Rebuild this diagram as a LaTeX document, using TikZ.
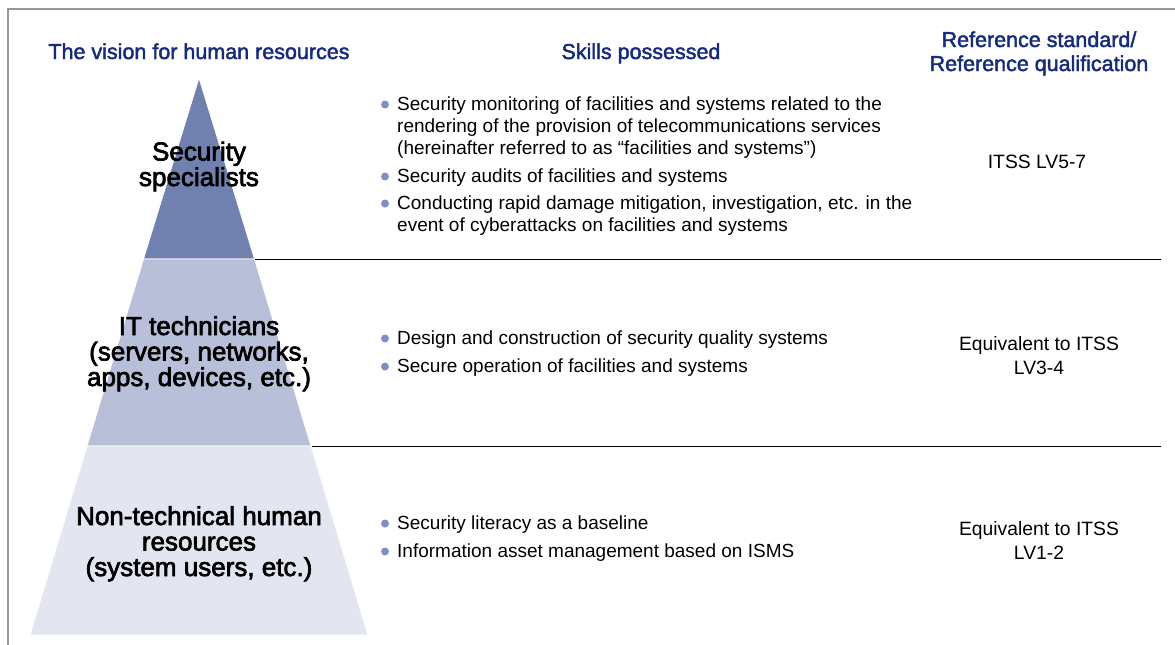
\documentclass[tikz,border=0pt]{standalone}
\usepackage{fontspec}
\setmainfont{Liberation Sans}
\newfontfamily\medfont{Liberation Sans}[FakeBold=2]
\newfontfamily\labfont{Liberation Sans}[FakeBold=2.6]
\definecolor{navy}{RGB}{22,43,122}
\definecolor{tierA}{RGB}{112,128,175}
\definecolor{tierB}{RGB}{183,191,217}
\definecolor{tierC}{RGB}{227,230,241}
\definecolor{bulletc}{RGB}{127,143,192}
\definecolor{framec}{RGB}{150,150,150}
\tikzset{
  head/.style={anchor=base, inner sep=0pt, text=navy, align=center, font=\medfont\fontsize{21.5}{24}\selectfont},
  tierlabel/.style={anchor=base, inner sep=0pt, align=center, font=\labfont\fontsize{26}{25.5}\selectfont},
  skill/.style={anchor=base west, inner sep=0pt, align=left, font=\fontsize{19}{22.3}\selectfont},
  reftext/.style={anchor=base, inner sep=0pt, align=center, font=\fontsize{19.3}{23.5}\selectfont},
  dot/.style={circle, fill=bulletc, inner sep=0pt, minimum size=8pt},
  sep/.style={line width=1.8pt, black},
  tier/.style={draw=white, line width=0.8pt}
}
\begin{document}
\begin{tikzpicture}[x=1pt,y=-1pt]
\useasboundingbox (0,0) rectangle (1175,645);
\fill[white] (0,0) rectangle (1175,645);
\draw[framec, line width=1.2pt] (1176,9) -- (8,9) -- (8,646);
% pyramid
\filldraw[tier, fill=tierA] (199,78) -- (254.5,259) -- (143.5,259) -- cycle;
\filldraw[tier, fill=tierB] (143.5,259) -- (254.5,259) -- (311,446) -- (87,446) -- cycle;
\filldraw[tier, fill=tierC] (87,446) -- (311,446) -- (368,635) -- (30,635) -- cycle;
% separators
\coordinate (s1a) at (255,259.5);
\coordinate (s1b) at (1161,259.5);
\coordinate (s2a) at (311.5,446.5);
\coordinate (s2b) at (1161,446.5);
\draw[sep] (s1a) -- (s1b);
\draw[sep] (s2a) -- (s2b);
% headers (base anchor = last line)
\node[head] (h1) at (199,59) {The vision for human resources};
\node[head] (h2) at (641,59) {Skills possessed};
\node[head] (h3) at (1039,71) {Reference standard/\\Reference qualification};
% tier labels
\node[tierlabel] (t1) at (199,186) {Security\\specialists};
\node[tierlabel] (t2) at (199,386) {IT technicians\\(servers, networks,\\apps, devices, etc.)};
\node[tierlabel] (t3) at (199,576) {Non-technical human\\resources\\(system users, etc.)};
% skills tier 1
\node[skill] (k1) at (397,154.6) {Security monitoring of facilities and systems related to the\\rendering of the provision of telecommunications services\\(hereinafter referred to as “facilities and systems”)};
\node[skill] (k2) at (397,182) {Security audits of facilities and systems};
\node[skill] (k3) at (397,231.3) {Conducting rapid damage mitigation, investigation, etc. in the\\event of cyberattacks on facilities and systems};
% tier 2
\node[skill] (k4) at (397,344) {Design and construction of security quality systems};
\node[skill] (k5) at (397,372) {Secure operation of facilities and systems};
% tier 3
\node[skill] (k6) at (397,529) {Security literacy as a baseline};
\node[skill] (k7) at (397,557) {Information asset management based on ISMS};
% bullets (at first line of each item)
\node[dot] (dk1) at (385,104.5) {};
\node[dot] (dk2) at (385,176.5) {};
\node[dot] (dk3) at (385,203.5) {};
\node[dot] (dk4) at (385,338.5) {};
\node[dot] (dk5) at (385,366.5) {};
\node[dot] (dk6) at (385,523.5) {};
\node[dot] (dk7) at (385,551.5) {};
% reference column
\node[reftext] (r1) at (1037,168) {ITSS LV5-7};
\node[reftext] (r2) at (1039,374) {Equivalent to ITSS\\LV3-4};
\node[reftext] (r3) at (1039,559) {Equivalent to ITSS\\LV1-2};
\end{tikzpicture}
\end{document}
